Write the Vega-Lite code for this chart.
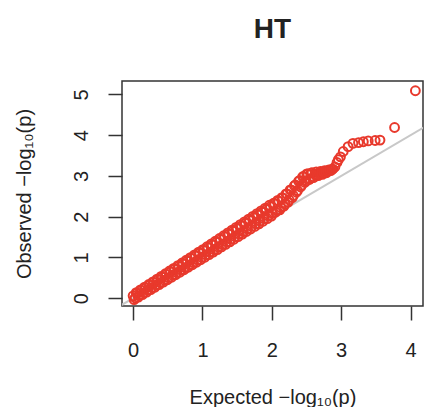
{
  "$schema": "https://vega.github.io/schema/vega-lite/v6.json",
  "autosize": "none",
  "width": 301,
  "height": 225,
  "padding": {"left": 122, "top": 81, "right": 1, "bottom": 101},
  "background": "white",
  "title": {"text": "HT", "fontSize": 28, "fontWeight": "bold", "font": "Liberation Sans", "color": "#222", "anchor": "middle", "baseline": "alphabetic", "offset": 15},
  "datasets": {
    "ref": [{"e": -0.3, "o": -0.3}, {"e": 4.5, "o": 4.5}],
    "pts": [
      {"e": 0.00, "o": 0.06}, {"e": 0.03, "o": 0.011}, {"e": 0.06, "o": 0.126}, {"e": 0.09, "o": 0.072},
      {"e": 0.12, "o": 0.191}, {"e": 0.15, "o": 0.134}, {"e": 0.18, "o": 0.256}, {"e": 0.21, "o": 0.197},
      {"e": 0.24, "o": 0.321}, {"e": 0.27, "o": 0.258}, {"e": 0.30, "o": 0.387}, {"e": 0.33, "o": 0.32},
      {"e": 0.36, "o": 0.453}, {"e": 0.39, "o": 0.381}, {"e": 0.42, "o": 0.518}, {"e": 0.45, "o": 0.443},
      {"e": 0.48, "o": 0.583}, {"e": 0.51, "o": 0.506}, {"e": 0.54, "o": 0.648}, {"e": 0.57, "o": 0.567},
      {"e": 0.60, "o": 0.714}, {"e": 0.63, "o": 0.629}, {"e": 0.66, "o": 0.78}, {"e": 0.69, "o": 0.69},
      {"e": 0.72, "o": 0.845}, {"e": 0.75, "o": 0.752}, {"e": 0.78, "o": 0.91}, {"e": 0.81, "o": 0.815},
      {"e": 0.84, "o": 0.975}, {"e": 0.87, "o": 0.876}, {"e": 0.90, "o": 1.041}, {"e": 0.93, "o": 0.938},
      {"e": 0.96, "o": 1.107}, {"e": 0.99, "o": 0.999}, {"e": 1.02, "o": 1.173}, {"e": 1.05, "o": 1.063},
      {"e": 1.08, "o": 1.239}, {"e": 1.11, "o": 1.127}, {"e": 1.14, "o": 1.307}, {"e": 1.17, "o": 1.19},
      {"e": 1.20, "o": 1.374}, {"e": 1.23, "o": 1.254}, {"e": 1.26, "o": 1.441}, {"e": 1.29, "o": 1.317},
      {"e": 1.32, "o": 1.509}, {"e": 1.35, "o": 1.381}, {"e": 1.38, "o": 1.575}, {"e": 1.41, "o": 1.445},
      {"e": 1.44, "o": 1.643}, {"e": 1.47, "o": 1.508}, {"e": 1.50, "o": 1.71}, {"e": 1.53, "o": 1.572},
      {"e": 1.56, "o": 1.777}, {"e": 1.59, "o": 1.635}, {"e": 1.62, "o": 1.845}, {"e": 1.65, "o": 1.699},
      {"e": 1.68, "o": 1.911}, {"e": 1.71, "o": 1.763}, {"e": 1.74, "o": 1.979}, {"e": 1.77, "o": 1.826},
      {"e": 1.80, "o": 2.046}, {"e": 1.83, "o": 1.89}, {"e": 1.86, "o": 2.113}, {"e": 1.89, "o": 1.953},
      {"e": 1.92, "o": 2.181}, {"e": 1.95, "o": 2.017}, {"e": 1.98, "o": 2.247}, {"e": 2.01, "o": 2.08},
      {"e": 2.04, "o": 2.32}, {"e": 2.07, "o": 2.15}, {"e": 2.10, "o": 2.38}, {"e": 2.13, "o": 2.22},
      {"e": 2.16, "o": 2.46}, {"e": 2.19, "o": 2.31}, {"e": 2.22, "o": 2.56}, {"e": 2.25, "o": 2.41},
      {"e": 2.28, "o": 2.66}, {"e": 2.31, "o": 2.52}, {"e": 2.34, "o": 2.78}, {"e": 2.37, "o": 2.64},
      {"e": 2.40, "o": 2.89}, {"e": 2.43, "o": 2.77}, {"e": 2.46, "o": 2.99}, {"e": 2.49, "o": 2.87},
      {"e": 2.52, "o": 3.05}, {"e": 2.55, "o": 2.93}, {"e": 2.58, "o": 3.08}, {"e": 2.61, "o": 2.97},
      {"e": 2.64, "o": 3.10}, {"e": 2.67, "o": 3.01}, {"e": 2.70, "o": 3.11}, {"e": 2.73, "o": 3.04},
      {"e": 2.76, "o": 3.13}, {"e": 2.79, "o": 3.08}, {"e": 2.82, "o": 3.15}, {"e": 2.85, "o": 3.13},
      {"e": 2.88, "o": 3.17}, {"e": 2.91, "o": 3.22}, {"e": 2.94, "o": 3.33}, {"e": 2.96, "o": 3.40},
      {"e": 2.99, "o": 3.47}, {"e": 3.03, "o": 3.60}, {"e": 3.10, "o": 3.72}, {"e": 3.17, "o": 3.80},
      {"e": 3.25, "o": 3.82}, {"e": 3.32, "o": 3.84}, {"e": 3.39, "o": 3.86}, {"e": 3.49, "o": 3.87},
      {"e": 3.56, "o": 3.88}, {"e": 3.77, "o": 4.19}, {"e": 4.07, "o": 5.09},
      {"e": 0.015, "o": -0.035}, {"e": 0.045, "o": 0.140}, {"e": 0.075, "o": 0.027}, {"e": 0.105, "o": 0.205},
      {"e": 0.135, "o": 0.088}, {"e": 0.165, "o": 0.272}, {"e": 0.195, "o": 0.149}, {"e": 0.225, "o": 0.338},
      {"e": 0.255, "o": 0.210}, {"e": 0.285, "o": 0.403}, {"e": 0.315, "o": 0.271}, {"e": 0.345, "o": 0.470},
      {"e": 0.375, "o": 0.333}, {"e": 0.405, "o": 0.535}, {"e": 0.435, "o": 0.394}, {"e": 0.465, "o": 0.602},
      {"e": 0.495, "o": 0.455}, {"e": 0.525, "o": 0.668}, {"e": 0.555, "o": 0.516}, {"e": 0.585, "o": 0.733},
      {"e": 0.615, "o": 0.577}, {"e": 0.645, "o": 0.800}, {"e": 0.675, "o": 0.639}, {"e": 0.705, "o": 0.865},
      {"e": 0.735, "o": 0.700}, {"e": 0.765, "o": 0.932}, {"e": 0.795, "o": 0.761}, {"e": 0.825, "o": 0.998},
      {"e": 0.855, "o": 0.822}, {"e": 0.885, "o": 1.063}, {"e": 0.915, "o": 0.883}, {"e": 0.945, "o": 1.130},
      {"e": 0.975, "o": 0.945}, {"e": 1.005, "o": 1.195}, {"e": 1.035, "o": 1.007}, {"e": 1.065, "o": 1.264},
      {"e": 1.095, "o": 1.070}, {"e": 1.125, "o": 1.331}, {"e": 1.155, "o": 1.133}, {"e": 1.185, "o": 1.399},
      {"e": 1.215, "o": 1.195}, {"e": 1.245, "o": 1.467}, {"e": 1.275, "o": 1.259}, {"e": 1.305, "o": 1.534},
      {"e": 1.335, "o": 1.322}, {"e": 1.365, "o": 1.603}, {"e": 1.395, "o": 1.385}, {"e": 1.425, "o": 1.670},
      {"e": 1.455, "o": 1.448}, {"e": 1.485, "o": 1.738}, {"e": 1.515, "o": 1.510}, {"e": 1.545, "o": 1.806},
      {"e": 1.575, "o": 1.574}, {"e": 1.605, "o": 1.873}, {"e": 1.635, "o": 1.637}, {"e": 1.665, "o": 1.942},
      {"e": 1.695, "o": 1.700}, {"e": 1.725, "o": 2.009}, {"e": 1.755, "o": 1.763}, {"e": 1.785, "o": 2.077},
      {"e": 1.815, "o": 1.825}, {"e": 1.845, "o": 2.145}, {"e": 1.875, "o": 1.889}, {"e": 1.905, "o": 2.212},
      {"e": 1.935, "o": 1.952}, {"e": 1.965, "o": 2.281}, {"e": 1.995, "o": 2.015}, {"e": 2.025, "o": 2.33},
      {"e": 2.055, "o": 2.11}, {"e": 2.085, "o": 2.40}, {"e": 2.115, "o": 2.17}, {"e": 2.145, "o": 2.47},
      {"e": 2.175, "o": 2.26}, {"e": 2.205, "o": 2.56}, {"e": 2.235, "o": 2.36}, {"e": 2.265, "o": 2.66},
      {"e": 2.295, "o": 2.47}, {"e": 2.325, "o": 2.76}, {"e": 2.355, "o": 2.60}, {"e": 2.385, "o": 2.87},
      {"e": 2.415, "o": 2.73}, {"e": 2.445, "o": 2.98}, {"e": 2.475, "o": 2.84}, {"e": 2.505, "o": 3.05},
      {"e": 2.535, "o": 2.91}, {"e": 2.565, "o": 3.07}, {"e": 2.595, "o": 2.96}, {"e": 2.625, "o": 3.04},
      {"e": 2.655, "o": 3.05}, {"e": 2.685, "o": 3.06}, {"e": 2.715, "o": 3.07}, {"e": 2.745, "o": 3.09},
      {"e": 2.775, "o": 3.10}, {"e": 2.805, "o": 3.12}, {"e": 2.835, "o": 3.14}, {"e": 2.865, "o": 3.16}
    ]
  },
  "encoding": {
    "x": {"field": "e", "type": "quantitative",
      "scale": {"domain": [-0.16, 4.18], "nice": false, "zero": false},
      "axis": {"values": [0, 1, 2, 3, 4], "title": "Expected  −log₁₀(p)", "titlePadding": 27}},
    "y": {"field": "o", "type": "quantitative",
      "scale": {"domain": [-0.19, 5.33], "nice": false, "zero": false},
      "axis": {"values": [0, 1, 2, 3, 4, 5], "title": "Observed  −log₁₀(p)", "labelAngle": -90, "labelAlign": "center", "labelBaseline": "bottom", "labelPadding": 17, "titlePadding": 37}}
  },
  "layer": [
    {"data": {"name": "ref"}, "mark": {"type": "line", "color": "#c8c8c8", "strokeWidth": 2, "clip": true}},
    {"data": {"name": "pts"}, "mark": {"type": "point", "shape": "circle", "filled": false, "color": "#e8392c", "size": 78, "strokeWidth": 2, "opacity": 1, "clip": true}}
  ],
  "config": {
    "view": {"stroke": "#333", "strokeWidth": 1.5},
    "font": "Liberation Sans",
    "axis": {
      "domain": false, "grid": false,
      "tickSize": 14, "tickWidth": 1.5, "tickColor": "#333",
      "labelFont": "Liberation Sans", "labelFontSize": 20, "labelColor": "#222", "labelPadding": 20,
      "titleFont": "Liberation Sans", "titleFontSize": 20, "titleFontWeight": "normal", "titleColor": "#222"
    }
  }
}
